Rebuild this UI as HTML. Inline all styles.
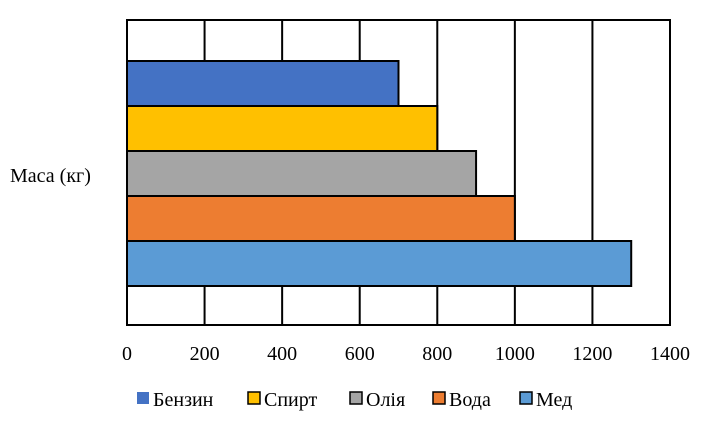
<!DOCTYPE html>
<html><head><meta charset="utf-8"><style>
body{margin:0;background:#fff;width:712px;height:428px;overflow:hidden}
svg text{font-family:"Liberation Serif",serif;font-size:20px;fill:#000}
</style></head><body>
<svg id="chart" width="712" height="428"></svg>
<script>
const categories=["Бензин","Спирт","Олія","Вода","Мед"];
const values=[700,800,900,1000,1300];
const colors=["#4472c4","#ffc000","#a5a5a5","#ed7d31","#5b9bd5"];
const ticks=[0,200,400,600,800,1000,1200,1400];
const svg=document.getElementById('chart');
const NS="http://www.w3.org/2000/svg";
const L=127,R=670,T=20,B=325,bandTop=61,bandH=45;
const x=v=>L+(v-0)/(1400-0)*(R-L);
function mk(t,a,txt){const e=document.createElementNS(NS,t);for(const k in a)e.setAttribute(k,a[k]);if(txt!=null)e.textContent=txt;svg.appendChild(e);return e;}
let e=mk('rect',{x:L,y:T,width:R-L,height:B-T,fill:'#fff',stroke:'#000','stroke-width':2});


ticks.forEach(t=>{
  const g=mk('line',{x1:x(t),x2:x(t),y1:T,y2:B,stroke:'#000','stroke-width':2});
  
  
  const l=mk('text',{x:x(t),y:360,'text-anchor':'middle'},t);
  
  
});
values.forEach((v,i)=>{
  const b=mk('rect',{x:x(0),y:bandTop+i*bandH,width:x(v)-x(0),height:bandH,fill:colors[i],stroke:'#000','stroke-width':2});
  
  
});
const yl=mk('text',{x:10,y:182},'Маса (кг)');


const lx=[137,248,350,433,520];
categories.forEach((c,i)=>{
  const s=mk('rect',{x:lx[i],y:392,width:12,height:12,fill:colors[i],stroke:i==0?'none':'#000','stroke-width':1.5});
  
  
  const t=mk('text',{x:lx[i]+16,y:406},c);
  
  
});
</script>
</body></html>
